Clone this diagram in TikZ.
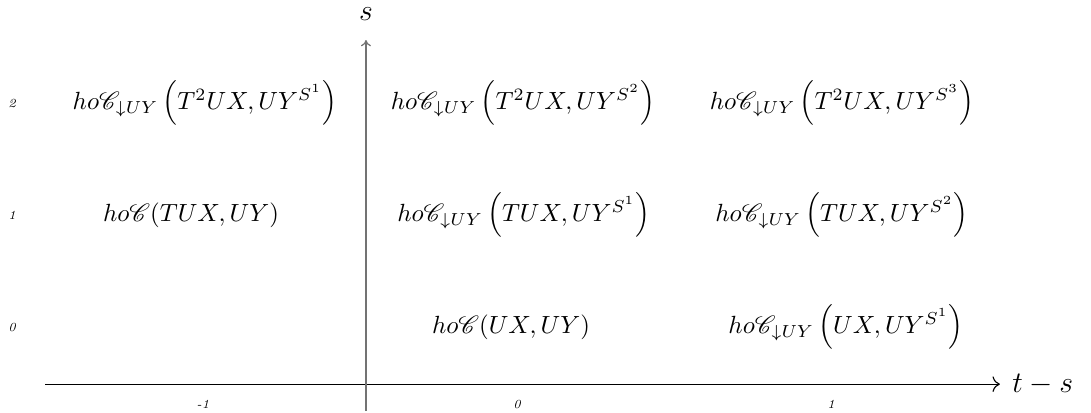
\documentclass[tikz,border=0pt]{standalone}
\usepackage{amsmath, amssymb}
\usepackage{mathrsfs}
\usepackage{tikz}
\usetikzlibrary{arrows.meta, positioning}
\tikzset{
  ss/entry/.style={inner sep=1pt, anchor=center},
  ss/tick/.style={font=\tiny\itshape, inner sep=1pt},
  ss/haxis/.style={-{To[length=3pt]}, line width=0.45pt, draw=black},
  ss/vaxis/.style={-{To[length=2.5pt, width=4pt, line width=0.5pt]},
    line width=0.8pt, draw=black!55},
  ss/lbl/.style={inner sep=1pt, font=\large}
}
\newcommand{\hoC}{ho\mathscr{C}}
\newcommand{\hoCd}{ho\mathscr{C}_{\downarrow UY}}

\begin{document}
\begin{tikzpicture}[x=126.3pt, y=45.06pt]
  \useasboundingbox (-1.6465,-0.759) rectangle (1.828,2.92);
  % axes
  \coordinate (h0) at (-1.503,-0.509);
  \coordinate (h1) at (1.538,-0.509);
  \coordinate (v0) at (-0.481,-0.75);
  \coordinate (v1) at (-0.481,2.5625);
  \draw[ss/haxis] (h0) -- (h1);
  \draw[ss/vaxis] (v0) -- (v1);
  \node[ss/lbl, anchor=west] (tlbl) at (1.568,-0.509) {$t-s$};
  \node[ss/lbl] (slbl) at (-0.481,2.79) {$s$};
  % row and column labels
  \foreach \r in {0,1,2}
    \node[ss/tick] (row\r) at (-1.608,\r) {\r};
  \node[ss/tick] (colm1) at (-1,-0.6875) {-1};
  \node[ss/tick] (col0) at (0,-0.6875) {0};
  \node[ss/tick] (col1) at (1,-0.6875) {1};
  % entries
  \node[ss/entry] (e20) at (-0.994,2)
    {$\hoCd\left(T^2UX,UY^{S^1}\right)$};
  \node[ss/entry] (e21) at (0.019,2)
    {$\hoCd\left(T^2UX,UY^{S^2}\right)$};
  \node[ss/entry] (e22) at (1.035,2)
    {$\hoCd\left(T^2UX,UY^{S^3}\right)$};
  \node[ss/entry] (e10) at (-1.038,1) {$\hoC(TUX,UY)$};
  \node[ss/entry] (e11) at (0.022,1)
    {$\hoCd\left(TUX,UY^{S^1}\right)$};
  \node[ss/entry] (e12) at (1.035,1)
    {$\hoCd\left(TUX,UY^{S^2}\right)$};
  \node[ss/entry] (e01) at (-0.019,0) {$\hoC(UX,UY)$};
  \node[ss/entry] (e02) at (1.048,0)
    {$\hoCd\left(UX,UY^{S^1}\right)$};
\end{tikzpicture}
\end{document}
